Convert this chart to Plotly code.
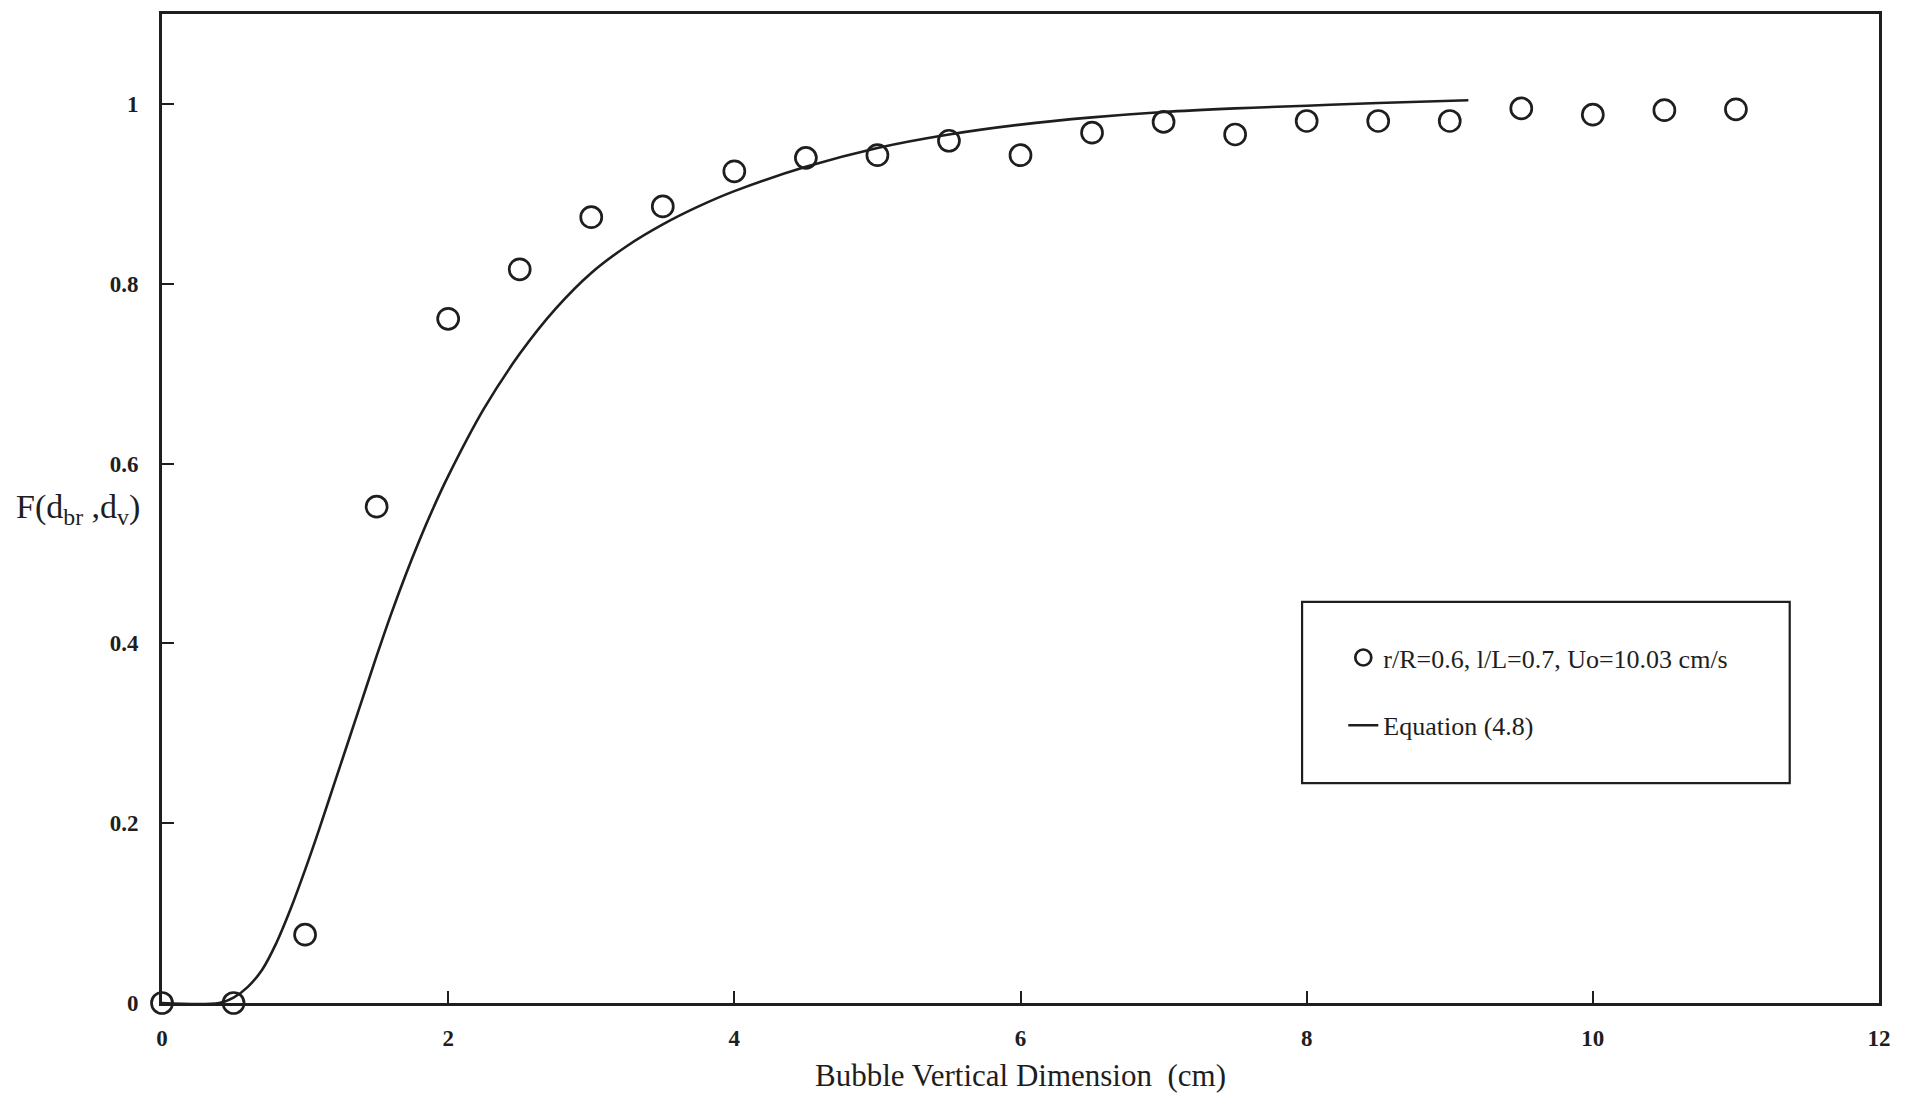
import plotly.graph_objects as go

# Measured fraction F(d_br, d_v) versus bubble vertical dimension
meas_x = [0, 0.5, 1, 1.5, 2, 2.5, 3, 3.5, 4, 4.5, 5, 5.5, 6, 6.5, 7, 7.5,
          8, 8.5, 9, 9.5, 10, 10.5, 11]
meas_y = [0, 0, 0.076, 0.552, 0.761, 0.816, 0.874, 0.886, 0.925, 0.940,
          0.943, 0.959, 0.943, 0.968, 0.980, 0.966, 0.981, 0.981, 0.981,
          0.995, 0.988, 0.993, 0.994]

# Equation (4.8) curve
eq_x = [0, 0.4, 0.5, 0.6, 0.7, 0.8, 0.9, 1.0, 1.1, 1.2, 1.3, 1.4, 1.5, 1.6,
        1.7, 1.8, 1.9, 2.0, 2.25, 2.5, 2.75, 3.0, 3.25, 3.5, 3.75, 4.0, 4.5,
        5.0, 5.5, 6.0, 6.5, 7.0, 7.5, 8.0, 8.5, 9.13]
eq_y = [0, 0.0, 0.006, 0.018, 0.037, 0.067, 0.105, 0.148, 0.194, 0.242,
        0.290, 0.338, 0.386, 0.432, 0.475, 0.515, 0.552, 0.586, 0.661,
        0.722, 0.772, 0.812, 0.842, 0.866, 0.886, 0.903, 0.930, 0.951,
        0.966, 0.977, 0.985, 0.991, 0.995, 0.998, 1.001, 1.004]

x_ticks = [0, 2, 4, 6, 8, 10, 12]
x_tick_text = ["0", "2", "4", "6", "8", "10", "12"]
y_ticks = [0, 0.2, 0.4, 0.6, 0.8, 1.0]
y_tick_text = ["0", "0.2", "0.4", "0.6", "0.8", "1"]

INK = "#1e1e1e"
SERIF = "Liberation Serif"

fig = go.Figure()
fig.add_trace(go.Scatter(
    x=meas_x, y=meas_y, mode="markers",
    name="r/R=0.6, l/L=0.7, Uo=10.03 cm/s",
    marker=dict(symbol="circle-open", size=21, color=INK,
                line=dict(width=2.7, color=INK)),
    cliponaxis=False, legendgroup="a",
))
fig.add_trace(go.Scatter(
    x=eq_x, y=eq_y, mode="lines", name="Equation (4.8)",
    line=dict(color=INK, width=2.6, shape="spline", smoothing=1.0),
    legendgroup="b",
))

tick_font = dict(family=SERIF, size=23, color=INK, weight="bold")

fig.update_xaxes(
    range=[0, 12], tickvals=x_ticks, ticktext=x_tick_text,
    ticks="inside", ticklen=12, tickwidth=2, tickcolor=INK,
    showline=True, linewidth=2.6, linecolor=INK, mirror=True,
    showgrid=False, zeroline=False, automargin=False,
    tickfont=tick_font, ticklabelstandoff=13,
    title=dict(text="Bubble Vertical Dimension \u00a0(cm)",
               font=dict(family=SERIF, size=31, color=INK), standoff=14),
)
fig.update_yaxes(
    range=[0, 1.1], tickvals=y_ticks, ticktext=y_tick_text,
    ticks="inside", ticklen=12, tickwidth=2, tickcolor=INK,
    showline=True, linewidth=2.6, linecolor=INK, mirror=True,
    showgrid=False, zeroline=False, automargin=False,
    tickfont=tick_font, ticklabelstandoff=16,
)

# Horizontal y-axis label with subscripts
fig.add_annotation(
    text="F(d<sub>br</sub> ,d<sub>v</sub>)", xref="paper", yref="paper",
    x=-0.086, y=0.499, xanchor="left", yanchor="middle", showarrow=False,
    font=dict(family=SERIF, size=34, color=INK),
)

# Legend frame
fig.add_shape(type="rect", xref="paper", yref="paper",
              x0=0.664, x1=0.948, y0=0.2224, y1=0.4055,
              line=dict(color=INK, width=2.2), fillcolor="rgba(0,0,0,0)")

fig.update_layout(
    width=1908, height=1097,
    margin=dict(l=162, r=29, t=14, b=94),
    paper_bgcolor="white", plot_bgcolor="white",
    showlegend=True,
    legend=dict(x=0.688, y=0.373, xanchor="left", yanchor="top",
                bgcolor="rgba(0,0,0,0)", borderwidth=0,
                font=dict(family=SERIF, size=26, color=INK),
                tracegroupgap=31, itemwidth=30),
)

fig.write_html("out.html")
